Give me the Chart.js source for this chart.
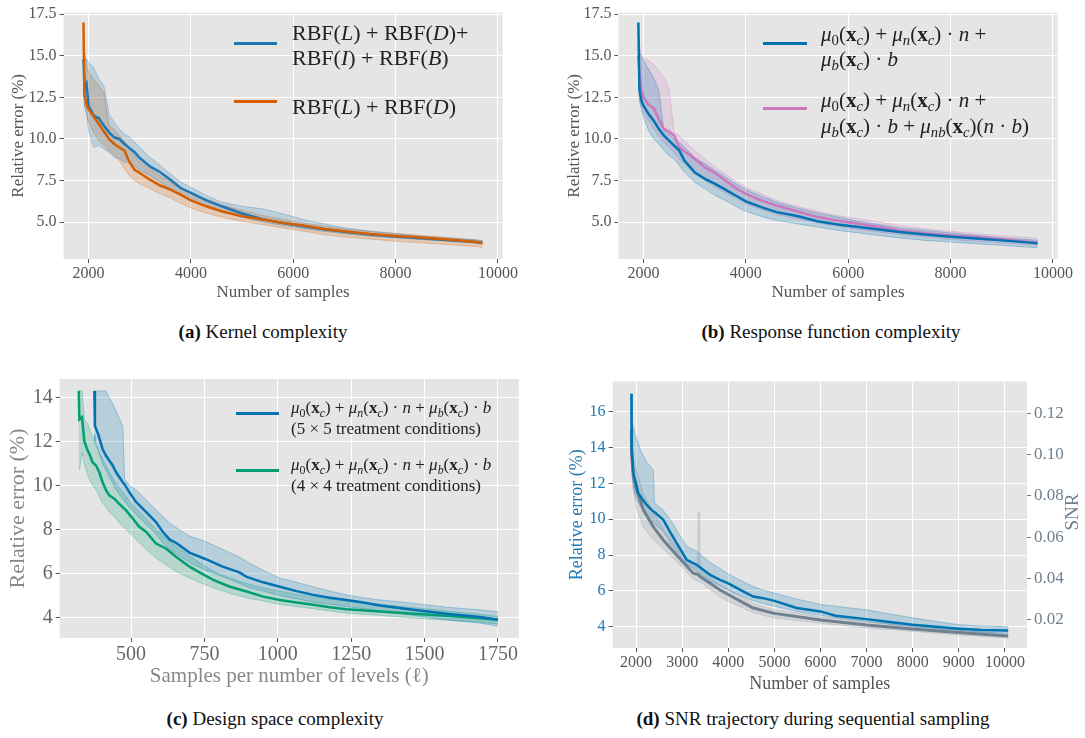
<!DOCTYPE html>
<html>
<head>
<meta charset="utf-8">
<script src="https://cdn.jsdelivr.net/npm/chart.js@4.4.1/dist/chart.umd.min.js"></script>
<style>
  body { margin: 0; width: 1085px; height: 738px; background: #fff; position: relative; overflow: hidden;
         font-family: 'Liberation Serif', 'DejaVu Serif', serif; }
  canvas { position: absolute; }
  .leg { position: absolute; color: #222; white-space: nowrap; }
  .sw { position: absolute; height: 3px; }
  .cap { position: absolute; font-size: 19px; color: #111; white-space: nowrap; transform: translateX(-50%); }
  sub { font-size: 0.7em; vertical-align: -0.3em; line-height: 0; }
</style>
</head>
<body>
<canvas id="ca" width="540" height="310" style="left:0;top:0"></canvas>
<canvas id="cb" width="545" height="310" style="left:540px;top:0"></canvas>
<canvas id="cc" width="540" height="340" style="left:0;top:360px"></canvas>
<canvas id="cd" width="545" height="340" style="left:540px;top:360px"></canvas>

<!-- legend (a) -->
<div class="sw" style="left:234px;top:42px;width:43px;background:#1f77b4"></div>
<div class="leg" style="left:292px;top:20px;font-size:22px;line-height:25px">RBF(<i>L</i>) + RBF(<i>D</i>)+<br>RBF(<i>I</i>) + RBF(<i>B</i>)</div>
<div class="sw" style="left:234px;top:100px;width:43px;background:#D55E00"></div>
<div class="leg" style="left:292px;top:94px;font-size:22px;line-height:25px">RBF(<i>L</i>) + RBF(<i>D</i>)</div>

<!-- legend (b) -->
<div class="sw" style="left:763px;top:42px;width:44px;background:#0173B2"></div>
<div class="leg" style="left:821px;top:22px;font-size:21px;line-height:25px"><i>μ</i><sub>0</sub>(<b>x</b><sub><i>c</i></sub>) + <i>μ<sub>n</sub></i>(<b>x</b><sub><i>c</i></sub>) · <i>n</i> +<br><i>μ<sub>b</sub></i>(<b>x</b><sub><i>c</i></sub>) · <i>b</i></div>
<div class="sw" style="left:763px;top:107px;width:44px;background:#CC78BC"></div>
<div class="leg" style="left:821px;top:87px;font-size:21px;line-height:26px"><i>μ</i><sub>0</sub>(<b>x</b><sub><i>c</i></sub>) + <i>μ<sub>n</sub></i>(<b>x</b><sub><i>c</i></sub>) · <i>n</i> +<br><i>μ<sub>b</sub></i>(<b>x</b><sub><i>c</i></sub>) · <i>b</i> + <i>μ<sub>nb</sub></i>(<b>x</b><sub><i>c</i></sub>)(<i>n</i> · <i>b</i>)</div>

<!-- legend (c) -->
<div class="sw" style="left:236px;top:412px;width:43px;background:#0173B2"></div>
<div class="leg" style="left:291px;top:397px;font-size:17px;line-height:21px"><i>μ</i><sub>0</sub>(<b>x</b><sub><i>c</i></sub>) + <i>μ<sub>n</sub></i>(<b>x</b><sub><i>c</i></sub>) · <i>n</i> + <i>μ<sub>b</sub></i>(<b>x</b><sub><i>c</i></sub>) · <i>b</i><br>(5 × 5 treatment conditions)</div>
<div class="sw" style="left:236px;top:469px;width:43px;background:#029E73"></div>
<div class="leg" style="left:291px;top:454px;font-size:17px;line-height:21px"><i>μ</i><sub>0</sub>(<b>x</b><sub><i>c</i></sub>) + <i>μ<sub>n</sub></i>(<b>x</b><sub><i>c</i></sub>) · <i>n</i> + <i>μ<sub>b</sub></i>(<b>x</b><sub><i>c</i></sub>) · <i>b</i><br>(4 × 4 treatment conditions)</div>

<!-- captions -->
<div class="cap" style="left:263px;top:321px"><b>(a)</b> Kernel complexity</div>
<div class="cap" style="left:831px;top:321px"><b>(b)</b> Response function complexity</div>
<div class="cap" style="left:275px;top:708px"><b>(c)</b> Design space complexity</div>
<div class="cap" style="left:813px;top:708px"><b>(d)</b> SNR trajectory during sequential sampling</div>

<script>
const SERIF = "'Liberation Serif', 'DejaVu Serif', serif";

// ---- (a) Kernel complexity ----
const X_AB = [1900, 1920, 1960, 2000, 2100, 2200, 2300, 2400, 2500, 2600, 2700, 2800, 2900, 3000, 3200, 3400, 3600,
              3800, 4000, 4300, 4600, 5000, 5400, 5800, 6200, 6600, 7000, 7500, 8000, 8500, 9000, 9500, 9700];
const A_FULL = [14.8, 13.0, 13.3, 12.0, 11.4, 11.25, 10.8, 10.4, 10.1, 10.0, 9.7, 9.45, 9.2, 8.85, 8.35, 8.0, 7.55,
                7.05, 6.75, 6.3, 5.95, 5.52, 5.17, 4.95, 4.75, 4.57, 4.42, 4.25, 4.14, 4.03, 3.93, 3.82, 3.76];
const A_FULL_HI = [15.0, 14.8, 14.8, 14.6, 14.3, 13.6, 13.2, 11.5, 11.0, 10.6, 10.3, 10.1, 9.8, 9.5, 8.9, 8.4, 7.9,
                   7.4, 7.1, 6.6, 6.2, 5.95, 5.8, 5.5, 5.15, 4.9, 4.65, 4.45, 4.3, 4.15, 4.05, 3.95, 3.9];
const A_FULL_LO = [13.8, 12.0, 11.6, 10.5, 9.5, 9.6, 9.4, 9.2, 8.9, 8.8, 8.6, 8.6, 8.4, 8.1, 7.8, 7.4, 7.0,
                   6.6, 6.3, 5.95, 5.6, 5.3, 5.0, 4.8, 4.6, 4.45, 4.3, 4.15, 4.05, 3.95, 3.85, 3.75, 3.68];
const A_LD = [17.0, 12.6, 12.1, 11.8, 11.35, 10.9, 10.45, 10.0, 9.7, 9.5, 9.3, 8.6, 8.15, 7.95, 7.55, 7.2, 6.95,
              6.65, 6.3, 5.95, 5.65, 5.35, 5.15, 4.95, 4.8, 4.58, 4.45, 4.28, 4.17, 4.08, 3.96, 3.83, 3.74];
const A_LD_HI = [17.0, 15.3, 14.5, 14.0, 13.6, 13.2, 12.8, 10.8, 10.6, 10.2, 9.9, 9.4, 9.0, 8.6, 8.2, 7.8, 7.4,
                 7.0, 6.75, 6.4, 6.05, 5.7, 5.4, 5.15, 4.95, 4.75, 4.6, 4.45, 4.32, 4.2, 4.08, 3.95, 3.87];
const A_LD_LO = [13.6, 12.0, 11.5, 11.0, 10.4, 9.9, 9.6, 9.3, 9.0, 8.7, 8.2, 7.8, 7.5, 7.3, 7.0, 6.7, 6.45,
                 6.15, 5.85, 5.55, 5.3, 5.05, 4.85, 4.65, 4.45, 4.25, 4.1, 3.98, 3.85, 3.75, 3.65, 3.55, 3.48];

// ---- (b) Response function complexity ----
const B_ADD = [17.0, 13.0, 12.3, 12.0, 11.5, 11.1, 10.6, 10.2, 9.9, 9.6, 9.3, 8.7, 8.35, 8.0, 7.6, 7.3, 6.95,
               6.6, 6.25, 5.9, 5.6, 5.37, 5.05, 4.85, 4.7, 4.55, 4.4, 4.25, 4.12, 4.02, 3.9, 3.78, 3.72];
const B_ADD_HI = [17.0, 15.2, 15.0, 14.7, 14.2, 13.7, 12.9, 10.5, 10.3, 10.0, 9.8, 9.5, 9.2, 8.9, 8.5, 8.1, 7.7,
                  7.3, 6.95, 6.55, 6.2, 5.85, 5.55, 5.3, 5.05, 4.85, 4.65, 4.5, 4.35, 4.2, 4.05, 3.95, 3.9];
const B_ADD_LO = [14.0, 12.3, 11.8, 11.3, 10.5, 10.0, 9.7, 9.3, 9.0, 8.8, 8.4, 8.0, 7.7, 7.4, 7.0, 6.6, 6.3,
                  5.95, 5.65, 5.35, 5.1, 4.9, 4.7, 4.5, 4.35, 4.2, 4.05, 3.9, 3.8, 3.7, 3.6, 3.5, 3.45];
const B_INT = [15.0, 14.0, 13.0, 12.5, 12.05, 11.85, 11.2, 10.6, 10.45, 10.2, 9.5, 9.25, 9.05, 8.8, 8.3, 7.95, 7.5,
               7.05, 6.7, 6.3, 6.0, 5.65, 5.3, 5.08, 4.9, 4.7, 4.5, 4.33, 4.2, 4.1, 3.97, 3.82, 3.78];
const B_INT_HI = [16.3, 15.8, 15.0, 14.9, 14.7, 14.5, 14.1, 13.7, 13.0, 10.4, 10.2, 9.9, 9.6, 9.3, 8.8, 8.3, 7.9,
                  7.45, 7.1, 6.7, 6.3, 5.95, 5.65, 5.4, 5.2, 5.0, 4.8, 4.6, 4.45, 4.3, 4.18, 4.07, 4.02];
const B_INT_LO = [13.0, 12.5, 12.0, 11.5, 11.1, 10.6, 10.1, 9.8, 9.5, 9.2, 8.8, 8.5, 8.2, 7.9, 7.5, 7.1, 6.75,
                  6.45, 6.1, 5.75, 5.45, 5.2, 4.95, 4.75, 4.55, 4.4, 4.25, 4.1, 3.95, 3.85, 3.75, 3.65, 3.6];

// ---- (c) Design space complexity ----
const X_C5 = [375, 377, 388, 403, 415, 426, 438, 449, 472, 478, 494, 517, 540, 562, 585, 608, 631, 653,
              699, 755, 812, 869, 894, 950, 1007, 1064, 1121, 1177, 1234, 1291, 1348, 1461, 1575, 1688, 1750];
const C_5X5 = [14.3, 12.7, 12.34, 11.66, 11.35, 11.14, 10.9, 10.6, 10.15, 10.05, 9.7, 9.25, 8.95, 8.65, 8.34, 7.9, 7.55, 7.4,
               6.95, 6.65, 6.31, 6.05, 5.85, 5.6, 5.4, 5.2, 5.03, 4.9, 4.8, 4.68, 4.55, 4.35, 4.17, 4.02, 3.9];
const C_5X5_HI = [14.3, 14.3, 14.3, 14.3, 14.3, 14.0, 13.7, 13.4, 12.7, 10.3, 10.0, 9.8, 9.5, 9.2, 8.9, 8.6, 8.3, 8.1,
                  7.7, 7.45, 7.1, 6.75, 6.55, 6.15, 5.8, 5.6, 5.4, 5.2, 5.03, 4.9, 4.8, 4.65, 4.47, 4.35, 4.27];
const C_5X5_LO = [12.3, 12.0, 11.6, 11.0, 10.7, 10.4, 10.1, 9.8, 9.4, 9.3, 9.0, 8.7, 8.4, 8.1, 7.8, 7.4, 7.1, 6.9,
                  6.5, 6.15, 5.85, 5.55, 5.4, 5.2, 5.0, 4.85, 4.7, 4.6, 4.5, 4.4, 4.3, 4.1, 3.9, 3.75, 3.6];
const X_C4 = [322, 324, 333, 341, 352, 358, 369, 381, 392, 403, 415, 426, 443, 460, 483, 506, 528, 551, 585,
              619, 653, 699, 733, 780, 837, 894, 950, 1007, 1064, 1121, 1177, 1234, 1348, 1461, 1575, 1688, 1750];
const C_4X4 = [14.3, 13.0, 13.1, 12.0, 11.6, 11.44, 11.06, 10.9, 10.6, 10.15, 9.78, 9.55, 9.4, 9.17, 8.87, 8.5, 8.12, 7.9, 7.36,
               7.14, 6.76, 6.31, 6.05, 5.71, 5.4, 5.18, 4.95, 4.8, 4.68, 4.58, 4.47, 4.38, 4.27, 4.17, 4.08, 3.97, 3.9];
const C_4X4_HI = [14.3, 14.3, 14.3, 13.0, 12.8, 12.6, 12.2, 11.8, 11.5, 11.2, 10.9, 10.6, 10.2, 9.9, 9.5, 9.1, 8.8, 8.5, 8.0,
                  7.6, 7.25, 6.8, 6.5, 6.1, 5.8, 5.55, 5.35, 5.2, 5.05, 4.95, 4.85, 4.75, 4.6, 4.45, 4.3, 4.15, 4.05];
const C_4X4_LO = [10.7, 10.7, 11.5, 11.0, 10.5, 10.3, 10.0, 9.8, 9.5, 9.2, 9.0, 8.8, 8.6, 8.3, 8.0, 7.7, 7.4, 7.1, 6.7,
                  6.4, 6.1, 5.8, 5.6, 5.35, 5.1, 4.9, 4.75, 4.6, 4.5, 4.4, 4.3, 4.2, 4.1, 3.98, 3.88, 3.78, 3.7];

// ---- (d) SNR trajectory ----
const X_D = [1900, 1905, 1942, 1978, 2050, 2123, 2231, 2375, 2400, 2592, 2737, 2881, 3098, 3315, 3605, 3820,
             4000, 4260, 4540, 4760, 5000, 5485, 6000, 6325, 7000, 7500, 8000, 8500, 9000, 9500, 10070];
const D_ERR = [17.0, 14.0, 12.57, 12.2, 11.45, 11.17, 10.8, 10.43, 10.4, 9.97, 9.3, 8.67, 7.74, 7.46, 6.9, 6.62,
               6.42, 6.06, 5.69, 5.6, 5.45, 5.05, 4.86, 4.62, 4.43, 4.27, 4.12, 4.0, 3.9, 3.82, 3.8];
const D_ERR_HI = [17.0, 15.35, 15.2, 14.8, 14.2, 13.7, 13.2, 12.75, 10.9, 10.5, 10.0, 9.4, 8.5, 8.2, 7.6, 7.25,
                  6.95, 6.6, 6.25, 6.05, 5.88, 5.55, 5.25, 5.15, 4.95, 4.72, 4.5, 4.3, 4.12, 4.05, 4.0];
const D_ERR_LO = [15.0, 13.0, 11.8, 11.4, 10.9, 10.6, 10.2, 9.8, 9.75, 9.3, 8.7, 8.2, 7.5, 7.1, 6.55, 6.3,
                  6.05, 5.75, 5.45, 5.3, 5.15, 4.85, 4.65, 4.5, 4.3, 4.15, 4.0, 3.9, 3.8, 3.7, 3.65];
const X_SNR = [1900, 1905, 1945, 2015, 2160, 2375, 2590, 2880, 3240, 3335, 3345, 3380, 3390, 3820, 4540, 5000,
               6000, 7000, 8000, 9000, 10070];
const D_SNR = [0.112, 0.0998, 0.0893, 0.0829, 0.0732, 0.0651, 0.0587, 0.0514, 0.0426, 0.042, 0.042, 0.0412, 0.041,
               0.0345, 0.0258, 0.0232, 0.020, 0.0176, 0.0157, 0.0139, 0.0123];
const D_SNR_HI = [0.115, 0.110, 0.098, 0.092, 0.081, 0.072, 0.064, 0.0555, 0.046, 0.045, 0.0724, 0.0715, 0.044,
                  0.037, 0.028, 0.025, 0.0215, 0.019, 0.017, 0.015, 0.0133];
const D_SNR_LO = [0.100, 0.092, 0.082, 0.074, 0.065, 0.0587, 0.0547, 0.0482, 0.040, 0.039, 0.039, 0.0385, 0.0385,
                  0.031, 0.0235, 0.021, 0.0185, 0.0162, 0.0145, 0.0128, 0.0113];

// tick labels
const XT_AB = [2000, 4000, 6000, 8000, 10000];
const YT_AB = [5.0, 7.5, 10.0, 12.5, 15.0, 17.5];
const XT_C = [500, 750, 1000, 1250, 1500, 1750];
const YT_C = [4, 6, 8, 10, 12, 14];
const XT_D = [2000, 3000, 4000, 5000, 6000, 7000, 8000, 9000, 10000];
const YT_D = [4, 6, 8, 10, 12, 14, 16];
const YT_SNR = [0.02, 0.04, 0.06, 0.08, 0.10, 0.12];

const BLUE_A = '#1f77b4', BLUE = '#0173B2', ORANGE = '#D55E00', PINK = '#CC78BC', GREEN = '#029E73';
const SLATE = '#708090';

function rgba(hex, a) {
  const n = parseInt(hex.slice(1), 16);
  return `rgba(${(n >> 16) & 255},${(n >> 8) & 255},${n & 255},${a})`;
}
function pts(xs, ys) { return xs.map((x, i) => ({ x: x, y: ys[i] })); }

// band (hi filled down to lo) + mean line
function addSeries(list, xs, mean, hi, lo, color, o) {
  const base = list.length;
  const axis = o.axis || 'y';
  list.push({ data: pts(xs, hi), yAxisID: axis, borderColor: rgba(o.bandColor || color, 0.3), borderWidth: 1,
              backgroundColor: rgba(o.bandColor || color, 0.2), fill: base + 1, order: 10 + base });
  list.push({ data: pts(xs, lo), yAxisID: axis, borderColor: rgba(o.bandColor || color, 0.3), borderWidth: 1,
              fill: false, order: 11 + base });
  list.push({ data: pts(xs, mean), yAxisID: axis, borderColor: color, borderWidth: o.width || 2.5,
              fill: false, order: o.order });
}

function xAxis(o) {
  return {
    type: 'linear', position: 'bottom', min: o.min, max: o.max,
    afterBuildTicks: s => { s.ticks = o.ticks.map(v => ({ value: v })); },
    afterFit: s => { s.height = o.h; },
    ticks: { color: o.color || '#555', font: { family: SERIF, size: o.size }, padding: 1, maxRotation: 0,
             autoSkip: false, callback: v => String(v) },
    grid: { color: '#ffffff', lineWidth: 1, tickColor: '#555', tickLength: 4 },
    border: { display: false },
    title: { display: true, text: o.title, color: o.titleColor || '#555',
             font: { family: SERIF, size: o.titleSize }, padding: { top: 0, bottom: o.titlePad } }
  };
}
function yAxis(o) {
  return {
    type: 'linear', position: o.position || 'left', min: o.min, max: o.max,
    afterBuildTicks: s => { s.ticks = o.ticks.map(v => ({ value: v })); },
    afterFit: s => { s.width = o.w; },
    ticks: { color: o.color || '#555', font: { family: SERIF, size: o.size }, padding: 3, autoSkip: false,
             callback: v => v.toFixed(o.digits) },
    grid: { color: '#ffffff', lineWidth: 1, tickColor: o.tickColor || '#555', tickLength: 4,
            drawOnChartArea: o.grid !== false },
    border: { display: false },
    title: { display: !!o.title, text: o.title, color: o.titleColor || '#555',
             font: { family: SERIF, size: o.titleSize }, padding: { top: o.titlePad, bottom: 0 } }
  };
}

const bgPlugin = {
  id: 'bg',
  beforeDraw(chart) {
    const { ctx, chartArea: a } = chart;
    ctx.save();
    ctx.fillStyle = '#e5e5e5';
    ctx.fillRect(a.left, a.top, a.right - a.left, a.bottom - a.top);
    ctx.restore();
  }
};

// rotated right-hand axis title reading bottom to top, like matplotlib
const snrLabel = {
  id: 'snrLabel',
  afterDraw(chart) {
    const ctx = chart.ctx;
    ctx.save();
    ctx.translate(533, 152);
    ctx.rotate(-Math.PI / 2);
    ctx.font = `19px ${SERIF}`;
    ctx.fillStyle = SLATE;
    ctx.textAlign = 'center';
    ctx.textBaseline = 'middle';
    ctx.fillText('SNR', 0, 0);
    ctx.restore();
  }
};

function makeChart(id, datasets, scales, pad, plugins) {
  return new Chart(document.getElementById(id), {
    type: 'line',
    data: { datasets: datasets },
    options: {
      responsive: false, animation: false, parsing: true,
      layout: { padding: pad },
      elements: { point: { radius: 0 }, line: { tension: 0 } },
      plugins: { legend: { display: false }, tooltip: { enabled: false } },
      scales: scales
    },
    plugins: [bgPlugin].concat(plugins || [])
  });
}

// (a)
const dsA = [];
addSeries(dsA, X_AB, A_FULL, A_FULL_HI, A_FULL_LO, BLUE_A, { order: 1 });
addSeries(dsA, X_AB, A_LD, A_LD_HI, A_LD_LO, ORANGE, { order: 0 });
makeChart('ca', dsA, {
  x: xAxis({ min: 1510, max: 10090, ticks: XT_AB, h: 51, size: 16, title: 'Number of samples', titleSize: 17, titlePad: 7 }),
  y: yAxis({ min: 2.78, max: 17.6, ticks: YT_AB, w: 63.5, size: 16, digits: 1, title: 'Relative error (%)', titleSize: 17, titlePad: 8 })
}, { left: 0, top: 5, right: 37.5, bottom: 0 });

// (b)
const dsB = [];
addSeries(dsB, X_AB, B_ADD, B_ADD_HI, B_ADD_LO, BLUE, { order: 0 });
addSeries(dsB, X_AB, B_INT, B_INT_HI, B_INT_LO, PINK, { order: 1 });
makeChart('cb', dsB, {
  x: xAxis({ min: 1510, max: 10090, ticks: XT_AB, h: 51, size: 16, title: 'Number of samples', titleSize: 17, titlePad: 7 }),
  y: yAxis({ min: 2.78, max: 17.6, ticks: YT_AB, w: 78.4, size: 16, digits: 1, title: 'Relative error (%)', titleSize: 17, titlePad: 24 })
}, { left: 0, top: 5, right: 27.4, bottom: 0 });

// (c)
const dsC = [];
addSeries(dsC, X_C5, C_5X5, C_5X5_HI, C_5X5_LO, BLUE, { order: 0 });
addSeries(dsC, X_C4, C_4X4, C_4X4_HI, C_4X4_LO, GREEN, { order: 1 });
makeChart('cc', dsC, {
  x: xAxis({ min: 257, max: 1821, ticks: XT_C, h: 62, size: 20, color: '#666', title: 'Samples per number of levels (ℓ)',
             titleSize: 21, titleColor: '#888', titlePad: 11 }),
  y: yAxis({ min: 3.07, max: 14.84, ticks: YT_C, w: 59.7, size: 20, color: '#666', digits: 0, title: 'Relative error (%)',
             titleSize: 22, titleColor: '#888', titlePad: 5 })
}, { left: 0, top: 19, right: 21.2, bottom: 0 });

// (d)
const dsD = [];
addSeries(dsD, X_D, D_ERR, D_ERR_HI, D_ERR_LO, BLUE, { order: 0 });
addSeries(dsD, X_SNR, D_SNR, D_SNR_HI, D_SNR_LO, SLATE, { order: 1, axis: 'y2', width: 3, bandColor: '#8a8f96' });
makeChart('cd', dsD, {
  x: xAxis({ min: 1492, max: 10478, ticks: XT_D, h: 52, size: 16, title: 'Number of samples', titleSize: 18, titlePad: 5 }),
  y: yAxis({ min: 2.82, max: 17.68, ticks: YT_D, w: 72.6, size: 16, digits: 0, color: BLUE_A,
             title: 'Relative error (%)', titleSize: 18, titleColor: BLUE_A, titlePad: 26 }),
  y2: yAxis({ position: 'right', min: 0.00645, max: 0.1354, ticks: YT_SNR, w: 58, size: 17, digits: 2, color: SLATE,
              tickColor: SLATE, grid: false })
}, { left: 0, top: 21.5, right: 0, bottom: 0 }, [snrLabel]);
</script>
</body>
</html>
